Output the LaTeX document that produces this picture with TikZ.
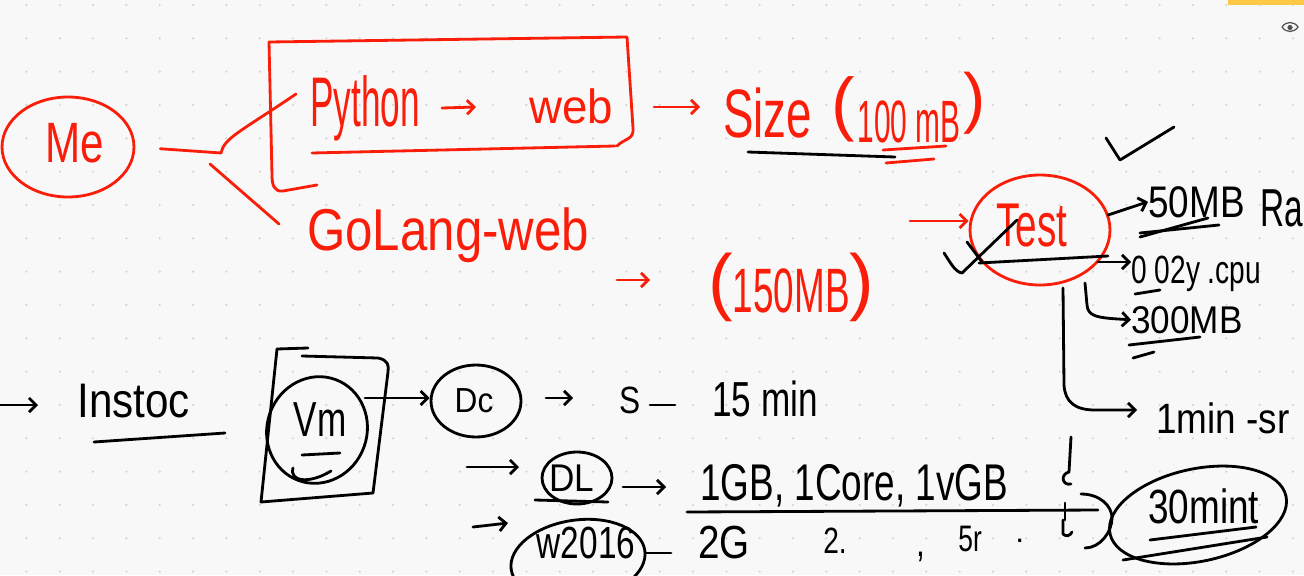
\documentclass[tikz,border=0pt]{standalone}
\usepackage{fontspec}
\setmainfont{Liberation Sans}
\usetikzlibrary{arrows.meta,shapes.geometric}
\definecolor{penred}{RGB}{250,30,10}
\definecolor{bgc}{RGB}{248,248,248}
\definecolor{dotc}{RGB}{212,212,212}
\definecolor{barc}{RGB}{255,200,70}
\definecolor{eyec}{RGB}{80,80,80}
\newcommand{\hwfs}[1]{\fontsize{#1}{#1}\selectfont}
\newcommand{\hw}[3]{\scalebox{1}[#2]{\fontsize{#1}{#1}\selectfont #3}}
\begin{document}
\begin{tikzpicture}[x=0.02cm,y=-0.02cm,
  rp/.style={draw=penred,line width=1.6pt,line cap=round,line join=round},
  bp/.style={draw=black,line width=1.6pt,line cap=round,line join=round},
  rt/.style={text=penred,inner sep=0pt,anchor=base west},
  bt/.style={text=black,inner sep=0pt,anchor=base west},
  tip/.style={-{Straight Barb[length=4pt,width=8pt]}},
  ring/.style={ellipse,inner sep=0pt}]
\fill[bgc] (0,0) rectangle (1304,575);
\useasboundingbox (0,0) rectangle (1304,575);
\foreach \i in {0,...,39}{\foreach \j in {0,...,17}{\fill[dotc] (26.4+33.33*\i,5+33.33*\j) circle (1.2);}}
% top-right UI
\fill[barc] (1228,0) rectangle (1304,5);
\draw[eyec,line width=0.7pt] (1282,27) .. controls (1286,21) and (1294,21) .. (1298,27) .. controls (1294,33) and (1286,33) .. (1282,27);
\fill[eyec] (1290,27.5) circle (2.6);

% ---------- red part ----------
\node[ring,rp,minimum width=2.64cm,minimum height=2.0cm] (me) at (68,147) {};
\node[rt] (metext) at (45,162) {\hw{24}{1.35}{Me}};
\coordinate (fork) at (221,153);
\coordinate (pyend) at (296,94);
\coordinate (gostart) at (210,164);
\coordinate (goend) at (279,224);
\draw[rp,shorten <=0.5cm] (me.east) -- (fork) .. controls (224,138) and (240,132) .. (pyend);
\draw[rp] (gostart) -- (goend);
% box
\draw[rp] (317,185) -- (283,191) .. controls (274,192) and (272,185) .. (272,175) -- (269,42) -- (627,37) -- (633,128) .. controls (634,140) and (625,138) .. (617,146);
\draw[rp] (312,153) -- (615,146);
\node[rt] (python) at (310,126) {\hw{20}{2.0}{Python}};
\node[rt] (web) at (529,123) {\hw{26}{1.05}{web}};
\coordinate (pya) at (442,108); \coordinate (pyb) at (476,107);
\draw[rp,tip] (pya) -- (pyb);
\coordinate (sza) at (654,107); \coordinate (szb) at (700,107);
\draw[rp,tip] (sza) -- (szb);
\node[rt] (size) at (723,137) {\hw{26}{1.5}{Size}};
\node[rt] (mb100) at (831,142) {\raisebox{8pt}{\hwfs{40}(}\,\hw{17}{2.0}{100 mB}\,\raisebox{12pt}{\hwfs{38})}};
\draw[bp] (748,152) -- (895,157);
\draw[rp] (883,150) -- (946,146);
\draw[rp] (886,163) -- (934,159);
\node[rt] (golang) at (307,250) {\hw{28}{1.2}{GoLang-web}};
\coordinate (goa) at (617,280); \coordinate (gob) at (650,280);
\draw[rp,tip] (goa) -- (gob);
\node[rt] (mb150) at (708,312) {\raisebox{3pt}{\hwfs{42}(}\hw{21}{1.7}{150MB}\raisebox{3pt}{\hwfs{42})}};
\node[ring,rp,minimum width=2.8cm,minimum height=2.2cm] (test) at (1040,230) {};
\node[rt,anchor=center] (testtext) at (1032,226) {\hw{22}{1.6}{Test}};
\coordinate (tin) at (910,221);
\draw[rp,tip] (tin) -- (test.west |- tin);

% ---------- black right part ----------
\draw[bp] (1106,138) -- (1120,160) -- (1174,127);
\draw[bp] (944,253) .. controls (950,262) and (955,272) .. (962,273) -- (1017,220);
\draw[bp] (967,242) -- (982,262);
\coordinate (tl) at (979,263);
\coordinate (tr) at (1108,256);
\draw[bp] (tl) -- (tr);
\node[bt] (cpu) at (1131,283) {\hw{16}{1.4}{0 02y .cpu}};
\coordinate (cpua) at (1098,262);
\draw[bp,tip] (cpua) -- (cpu.west |- cpua);
\node[bt] (ram50) at (1148,217) {\hw{21}{1.2}{50MB}};
\coordinate (rama) at (1108,215);
\draw[bp,tip] (rama) -- (ram50.west);
\node[bt] (ra) at (1260,226) {\hw{19}{1.6}{Ra}};
\draw[bp] (1140,237) -- (1208,218);
\draw[bp] (1140,233) -- (1219,225);
\node[bt] (mb300) at (1131,333) {\hw{20}{1.1}{300MB}};
\coordinate (h3) at (1085,283);
\draw[bp,tip] (h3) -- (1087,305) .. controls (1088,316) and (1095,318) .. (mb300.west);
\draw[bp] (1135,294) -- (1160,290);
\draw[bp] (1129,345) -- (1200,337);
\draw[bp] (1133,358) -- (1154,352);
\node[bt] (onemin) at (1156,433) {\hw{21}{1.15}{1min -sr}};
\coordinate (h1) at (1063,288);
\draw[bp,tip] (h1) -- (1064,385) .. controls (1065,402) and (1075,410) .. (1095,410) -- (1137,410);

% ---------- black bottom part ----------
\node[bt] (instoc) at (77,417) {\hw{24}{1.15}{Instoc}};
\coordinate (ia) at (0,405);
\draw[bp,tip] (ia) -- (38,405);
\draw[bp] (94,442) -- (225,433);
\draw[bp] (277,349) -- (308,348);
\draw[bp] (302,356) -- (378,358) .. controls (388,360) and (389,365) .. (388,372) -- (373,493) -- (261,502) -- (277,349);
\node[ring,bp,minimum width=2.0cm,minimum height=2.15cm,rotate=-20] (vm) at (317,430) {};
\node[bt,anchor=center] (vmtext) at (320,420) {\hw{20}{1.4}{Vm}};
\draw[bp] (302,455) -- (340,453);
\draw[bp] (293,468) .. controls (289,482) and (310,484) .. (331,471);
\node[ring,bp,minimum width=1.8cm,minimum height=1.44cm] (dc) at (476,401) {};
\node[bt,anchor=center] (dctext) at (474,401) {\hw{18}{1.1}{Dc}};
\coordinate (vmo) at (365,398);
\draw[bp,tip] (vmo) -- (dc.west |- vmo);
\node[bt] (s) at (619,413) {\hw{18}{1.2}{S}};
\coordinate (sa) at (546,398);
\draw[bp,tip] (sa) -- (573,398);
\draw[bp] (650,405) -- (675,405);
\node[bt] (min15) at (712,416) {\hw{20}{1.4}{15 min}};
\node[ring,bp,minimum width=1.4cm,minimum height=1.04cm] (dl) at (577,478) {};
\node[bt,anchor=center] (dltext) at (572,478) {\hw{20}{1.1}{DL}};
\coordinate (dla) at (467,467);
\draw[bp,tip] (dla) -- (519,467);
\draw[bp] (535,500) -- (608,502);
\node[bt] (spec) at (700,500) {\hw{21}{1.4}{1GB, 1Core, 1vGB}};
\coordinate (dlo) at (623,487);
\draw[bp,tip] (dlo) -- (666,487);
\draw[bp] (1071,437) -- (1069,472) .. controls (1060,474) and (1062,486) .. (1071,484);
\coordinate (la) at (687,512);
\coordinate (lb) at (1098,510);
\draw[bp] (la) -- (lb);
\draw[bp] (1065,503) -- (1065,520);
\draw[bp] (1063,520) -- (1063,534) .. controls (1066,537) and (1070,536) .. (1072,532);
\node[ring,bp,minimum width=2.7cm,minimum height=1.6cm,rotate=8] (w2016) at (578,560) {};
\node[bt,anchor=center] (wtext) at (586,543) {\hw{19}{1.35}{w2016}};
\coordinate (wa) at (473,527);
\draw[bp,tip] (wa) -- (508,523);
\draw[bp] (645,553) -- (671,553);
\node[bt] (g2) at (698,558) {\hw{22}{1.2}{2G}};
\node[bt] (two) at (823,553) {\hw{16}{1.3}{2.}};
\node[bt] (comma) at (916,556) {\hw{18}{1.3}{,}};
\node[bt] (sr) at (958,551) {\hw{15}{1.4}{5r}};
\node[bt] (dot) at (1015,542) {\hw{18}{1}{.}};
\node[ring,bp,minimum width=3.6cm,minimum height=1.85cm,rotate=12] (mint) at (1198,515) {};
\node[bt] (minttext) at (1148,523) {\hw{21}{1.3}{30mint}};
\draw[bp] (1150,540) -- (1256,527);
\draw[bp] (1123,560) -- (1267,537);
\draw[bp] (1081,494) .. controls (1100,494) and (1112,506) .. (1112,518) .. controls (1112,532) and (1100,548) .. (1085,548);
\end{tikzpicture}
\end{document}
